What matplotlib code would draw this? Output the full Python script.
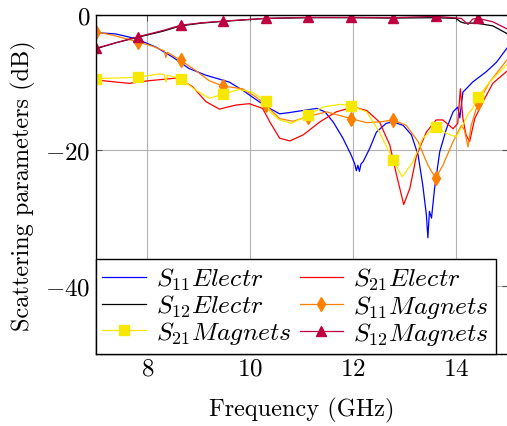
import matplotlib
matplotlib.use("Agg")
import matplotlib.pyplot as plt
from matplotlib.ticker import FuncFormatter

plt.rcParams['font.family'] = 'cmr10'
plt.rcParams['mathtext.fontset'] = 'cm'
plt.rcParams['axes.formatter.use_mathtext'] = True

# S11 Electr (blue)
f_s11e = [7.00, 7.39, 7.78, 8.17, 8.49, 8.81, 9.14, 9.59, 9.85, 10.17, 10.38, 10.57,
          10.77, 11.03, 11.29, 11.45, 11.61, 11.80, 11.96, 12.03, 12.06, 12.09, 12.12,
          12.15, 12.19, 12.32, 12.45, 12.64, 12.77, 12.97, 13.13, 13.26, 13.35, 13.42,
          13.45, 13.48, 13.52, 13.58, 13.68, 13.81, 13.94, 14.03, 14.07, 14.13, 14.32,
          14.58, 14.78, 15.0]
s11e = [-2.6, -2.8, -3.5, -4.75, -6.2, -7.9, -8.9, -9.9, -11.1, -12.8, -13.8, -14.6,
        -14.4, -14.1, -13.8, -14.3, -15.8, -18.2, -20.7, -22.0, -23.0, -22.2, -23.1,
        -22.0, -21.7, -19.7, -17.3, -16.0, -15.8, -16.3, -17.7, -20.7, -25.1, -29.5,
        -32.9, -29.0, -30.0, -25.6, -20.2, -16.8, -14.3, -13.6, -15.2, -11.4, -9.9,
        -8.4, -7.0, -4.75]

# S21 Electr (red)
f_s21e = [7.00, 7.65, 8.04, 8.59, 8.88, 9.14, 9.40, 9.72, 9.98, 10.24, 10.38, 10.57,
          10.77, 11.03, 11.35, 11.67, 12.00, 12.26, 12.51, 12.71, 12.84, 12.98, 13.10,
          13.23, 13.42, 13.61, 13.74, 13.94, 14.03, 14.08, 14.13, 14.19, 14.26, 14.36,
          14.52, 14.71, 15.0]
s21e = [-9.6, -10.1, -9.7, -9.3, -10.6, -12.8, -13.9, -13.3, -13.1, -13.8, -15.8, -18.2,
        -18.6, -17.7, -15.8, -14.3, -13.6, -14.1, -15.8, -19.2, -23.6, -28.0, -25.6,
        -20.7, -17.3, -15.5, -15.5, -16.8, -16.0, -10.9, -15.3, -17.7, -18.7, -15.3,
        -12.8, -10.1, -8.2]

# S12 Electr (black)
f_s12e = [7.0, 7.39, 7.81, 8.30, 8.65, 9.05, 9.46, 10.3, 11.12, 11.95, 12.77, 13.6,
          14.00, 14.08, 14.16, 14.39, 14.71, 15.0]
s12e = [-5.0, -4.1, -3.3, -2.4, -1.6, -1.2, -0.95, -0.5, -0.4, -0.4, -0.45, -0.4,
        -0.5, -1.0, -1.2, -1.2, -1.6, -2.8]

# marker frequencies of the "Magnets" series
mk_f = [7.0, 7.825, 8.65, 9.475, 10.3, 11.125, 11.95, 12.775, 13.6, 14.425]

# S11 Magnets (orange)
f_s11m = [7.0, 7.39, 7.825, 8.10, 8.33, 8.36, 8.39, 8.65, 8.94, 9.20, 9.475, 9.85,
          10.11, 10.3, 10.57, 10.83, 11.125, 11.48, 11.95, 12.26, 12.51, 12.775, 13.03,
          13.26, 13.45, 13.6, 13.74, 13.94, 14.10, 14.16, 14.23, 14.29, 14.425, 14.65, 15.0]
s11m = [-2.45, -3.1, -4.0, -4.6, -5.3, -6.3, -5.5, -6.7, -8.2, -9.7, -10.5, -10.9,
        -12.1, -13.3, -15.3, -15.7, -15.0, -14.3, -15.3, -15.9, -15.8, -15.5, -16.3,
        -18.7, -22.2, -24.1, -22.2, -18.7, -16.3, -17.0, -19.5, -16.3, -13.0, -9.9, -6.5]

# S21 Magnets (yellow)
f_s21m = [7.0, 7.825, 8.23, 8.33, 8.36, 8.39, 8.65, 8.94, 9.20, 9.475, 9.78, 10.04,
          10.3, 10.38, 10.57, 10.80, 11.125, 11.41, 11.74, 11.95, 12.26, 12.51, 12.775,
          12.95, 13.16, 13.35, 13.6, 13.81, 14.00, 14.16, 14.23, 14.32, 14.425, 14.65, 15.0]
s21m = [-9.4, -9.2, -8.7, -8.8, -9.9, -8.9, -9.4, -11.1, -12.3, -11.7, -11.0, -11.4,
        -12.7, -14.3, -15.5, -16.0, -14.8, -13.6, -13.2, -13.4, -14.3, -17.3, -21.4,
        -23.9, -21.7, -18.2, -16.5, -17.5, -18.0, -15.8, -14.6, -13.8, -12.1, -9.9, -7.2]

# S12 Magnets (purple)
f_s12m = [7.0, 7.39, 7.825, 8.30, 8.65, 9.05, 9.475, 10.3, 11.125, 11.95, 12.775, 13.6,
          14.10, 14.23, 14.32, 14.425, 14.71, 15.0]
s12m = [-4.9, -4.1, -3.2, -2.3, -1.5, -1.15, -0.9, -0.5, -0.35, -0.35, -0.4, -0.2,
        -0.5, -1.4, -0.6, -0.5, -1.0, -2.1]


def mark_idx(fs):
    return [i for i, f in enumerate(fs) if any(abs(f - m) < 1e-6 for m in mk_f)]


fig = plt.figure(figsize=(5.07, 4.27), dpi=100)
ax = fig.add_axes([95.8 / 507, 72.5 / 427, 411.9 / 507, 338.5 / 427])

lw = 0.9
h1, = ax.plot(f_s11e, s11e, color='#0000ff', lw=lw, label=r'$S_{11}Electr$')
h2, = ax.plot(f_s21e, s21e, color='#ff0000', lw=lw, label=r'$S_{21}Electr$')
h3, = ax.plot(f_s12e, s12e, color='black', lw=lw, label=r'$S_{12}Electr$')
h4, = ax.plot(f_s11m, s11m, color='#ff8000', lw=lw, marker='d', ms=7,
              markevery=mark_idx(f_s11m), label=r'$S_{11}Magnets$')
h5, = ax.plot(f_s21m, s21m, color='#f8e800', lw=lw, marker='s', ms=7.5,
              markevery=mark_idx(f_s21m), label=r'$S_{21}Magnets$')
h6, = ax.plot(f_s12m, s12m, color='#bf0040', lw=lw, marker='^', ms=7.5,
              markevery=mark_idx(f_s12m), label=r'$S_{12}Magnets$')

ax.set_xlim(7, 15)
ax.set_ylim(-50, 0)
ax.set_xticks([8, 10, 12, 14])
ax.set_yticks([-40, -20, 0])
fmt = FuncFormatter(lambda v, p: r'$%d$' % v)
ax.xaxis.set_major_formatter(fmt)
ax.yaxis.set_major_formatter(fmt)
ax.tick_params(direction='in', top=True, right=True, length=4, labelsize=18,
               color='#555555', pad=4)
ax.tick_params(axis='x', pad=3)
ax.grid(True, color='#b3b3b3', lw=0.8)
ax.set_axisbelow(True)
for s in ax.spines.values():
    s.set_linewidth(1.0)

ax.set_xlabel('Frequency (GHz)', fontsize=17.5, labelpad=12)
ax.set_ylabel('Scattering parameters (dB)', fontsize=17.5, labelpad=6)

order = [h1, h3, h5, h2, h4, h6]
leg = ax.legend(order, [h.get_label() for h in order],
                loc='lower left', ncol=2, fontsize=18.5, frameon=True,
                fancybox=False, edgecolor='black', framealpha=1,
                borderaxespad=0, handlelength=1.7, handletextpad=0.4,
                columnspacing=0.3, labelspacing=0.02, borderpad=0.25)
leg.get_frame().set_linewidth(1.0)

fig.savefig('out.png', dpi=100)
